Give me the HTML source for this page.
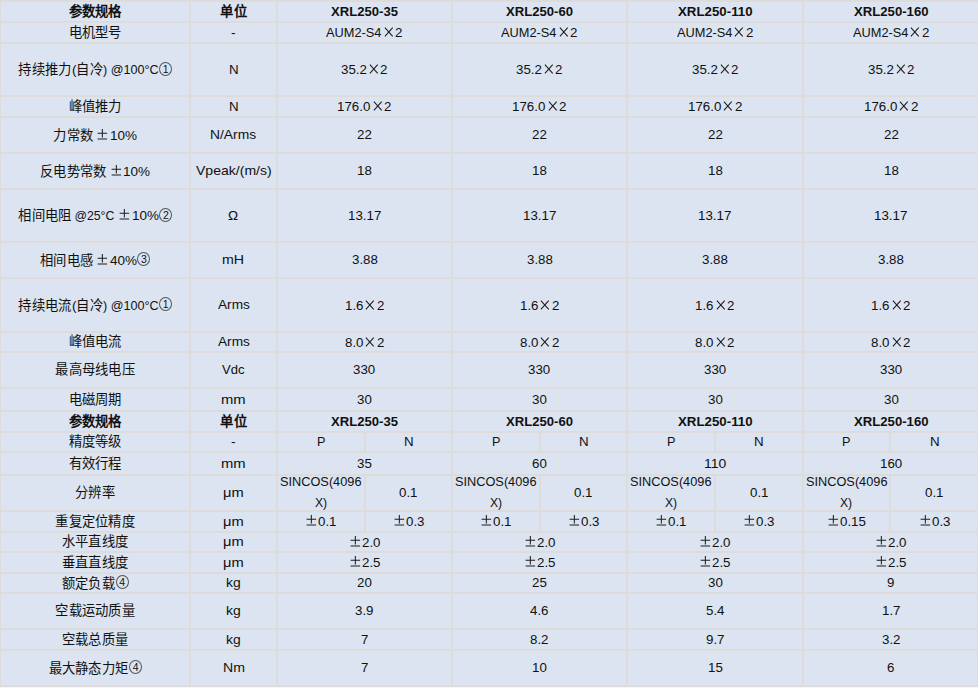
<!DOCTYPE html>
<html lang="zh-CN"><head><meta charset="utf-8"><title>XRL250 参数规格</title><style>
html,body{margin:0;padding:0;}
body{width:978px;height:688px;position:relative;overflow:hidden;background:#dddcda;font-family:"Liberation Sans", sans-serif;font-size:13.33px;color:#111;}
.c{position:absolute;background:#dbe4f0;display:flex;align-items:center;justify-content:center;text-align:center;white-space:nowrap;}
.c p{margin:0;line-height:1;position:relative;top:-0.25px;}
.b{font-weight:bold;}
.s p{line-height:20.7px;top:0;}
.l{display:inline-block;vertical-align:baseline;text-align:left;}
.k{display:inline-block;width:1em;text-align:center;}
.l span{display:inline-block;transform-origin:0 0;white-space:pre;}
.w{display:inline-block;width:1em;text-align:center;}
.g{vertical-align:-1px;}
.g path{stroke:#1e1e1e;stroke-width:1.05;fill:none;}
.ci{display:inline-block;width:1em;height:1em;vertical-align:-0.1em;position:relative;}
.ci span{position:absolute;left:0.8px;top:-0.2px;width:11px;height:12px;border:1px solid #555;border-radius:50%;font-size:10.5px;line-height:12.5px;text-align:center;}
#rb{position:absolute;left:977px;top:116px;width:1px;height:571px;background:linear-gradient(#dbe2ea,#dcdcda);}
#bot{position:absolute;left:0;top:687px;width:978px;height:1px;background:#f6f6f6;}
</style></head><body>
<div class="c b" style="left:1px;top:2px;width:188px;height:19px"><p><span class="k">参</span><span class="k">数</span><span class="k">规</span><span class="k">格</span></p></div>
<div class="c b" style="left:191px;top:2px;width:85px;height:19px"><p><span class="k">单</span><span class="k">位</span></p></div>
<div class="c b" style="left:278px;top:2px;width:173px;height:19px"><p><span class="l" style="width:66.98px"><span style="transform:scaleX(0.9825)">XRL250-35</span></span></p></div>
<div class="c b" style="left:453px;top:2px;width:173px;height:19px"><p><span class="l" style="width:66.98px"><span style="transform:scaleX(0.9825)">XRL250-60</span></span></p></div>
<div class="c b" style="left:628px;top:2px;width:174px;height:19px"><p><span class="l" style="width:74.56px"><span style="transform:scaleX(0.9962)">XRL250-110</span></span></p></div>
<div class="c b" style="left:804px;top:2px;width:174px;height:19px"><p><span class="l" style="width:74.56px"><span style="transform:scaleX(0.9865)">XRL250-160</span></span></p></div>
<div class="c" style="left:1px;top:23px;width:188px;height:19px"><p><span class="k">电</span><span class="k">机</span><span class="k">型</span><span class="k">号</span></p></div>
<div class="c" style="left:191px;top:23px;width:85px;height:19px"><p><span class="l" style="width:4.62px"><span style="transform:scaleX(1.0386)">-</span></span></p></div>
<div class="c" style="left:278px;top:23px;width:173px;height:19px"><p><span class="l" style="width:55.42px"><span style="transform:scaleX(0.9592)">AUM2-S4</span></span><svg class="g" width="13.33" height="13" viewBox="0 0 13.33 13"><path d="M2.9 2.7L10.7 11.3M10.7 2.7L2.9 11.3"/></svg><span class="l" style="width:7.41px"><span style="transform:scaleX(0.9979)">2</span></span></p></div>
<div class="c" style="left:453px;top:23px;width:173px;height:19px"><p><span class="l" style="width:55.42px"><span style="transform:scaleX(0.9592)">AUM2-S4</span></span><svg class="g" width="13.33" height="13" viewBox="0 0 13.33 13"><path d="M2.9 2.7L10.7 11.3M10.7 2.7L2.9 11.3"/></svg><span class="l" style="width:7.41px"><span style="transform:scaleX(0.9979)">2</span></span></p></div>
<div class="c" style="left:628px;top:23px;width:174px;height:19px"><p><span class="l" style="width:55.42px"><span style="transform:scaleX(0.9592)">AUM2-S4</span></span><svg class="g" width="13.33" height="13" viewBox="0 0 13.33 13"><path d="M2.9 2.7L10.7 11.3M10.7 2.7L2.9 11.3"/></svg><span class="l" style="width:7.41px"><span style="transform:scaleX(0.9979)">2</span></span></p></div>
<div class="c" style="left:804px;top:23px;width:174px;height:19px"><p><span class="l" style="width:55.42px"><span style="transform:scaleX(0.9592)">AUM2-S4</span></span><svg class="g" width="13.33" height="13" viewBox="0 0 13.33 13"><path d="M2.9 2.7L10.7 11.3M10.7 2.7L2.9 11.3"/></svg><span class="l" style="width:7.41px"><span style="transform:scaleX(0.9979)">2</span></span></p></div>
<div class="c" style="left:1px;top:44px;width:188px;height:51px"><p><span class="k">持</span><span class="k">续</span><span class="k">推</span><span class="k">力</span><span class="l" style="width:4.52px"><span style="transform:scaleX(1.0140)">(</span></span><span class="k">自</span><span class="k">冷</span><span class="l" style="width:55.73px"><span style="transform:scaleX(0.9467)">) @100°C</span></span><span class="ci"><span>1</span></span></p></div>
<div class="c" style="left:191px;top:44px;width:85px;height:51px"><p><span class="l" style="width:9.64px"><span style="transform:scaleX(1.0000)">N</span></span></p></div>
<div class="c" style="left:278px;top:44px;width:173px;height:51px"><p><span class="l" style="width:25.91px"><span style="transform:scaleX(0.9982)">35.2</span></span><svg class="g" width="13.33" height="13" viewBox="0 0 13.33 13"><path d="M2.9 2.7L10.7 11.3M10.7 2.7L2.9 11.3"/></svg><span class="l" style="width:7.41px"><span style="transform:scaleX(0.9979)">2</span></span></p></div>
<div class="c" style="left:453px;top:44px;width:173px;height:51px"><p><span class="l" style="width:25.91px"><span style="transform:scaleX(0.9982)">35.2</span></span><svg class="g" width="13.33" height="13" viewBox="0 0 13.33 13"><path d="M2.9 2.7L10.7 11.3M10.7 2.7L2.9 11.3"/></svg><span class="l" style="width:7.41px"><span style="transform:scaleX(0.9979)">2</span></span></p></div>
<div class="c" style="left:628px;top:44px;width:174px;height:51px"><p><span class="l" style="width:25.91px"><span style="transform:scaleX(0.9982)">35.2</span></span><svg class="g" width="13.33" height="13" viewBox="0 0 13.33 13"><path d="M2.9 2.7L10.7 11.3M10.7 2.7L2.9 11.3"/></svg><span class="l" style="width:7.41px"><span style="transform:scaleX(0.9979)">2</span></span></p></div>
<div class="c" style="left:804px;top:44px;width:174px;height:51px"><p><span class="l" style="width:25.91px"><span style="transform:scaleX(0.9982)">35.2</span></span><svg class="g" width="13.33" height="13" viewBox="0 0 13.33 13"><path d="M2.9 2.7L10.7 11.3M10.7 2.7L2.9 11.3"/></svg><span class="l" style="width:7.41px"><span style="transform:scaleX(0.9979)">2</span></span></p></div>
<div class="c" style="left:1px;top:97px;width:188px;height:19px"><p><span class="k">峰</span><span class="k">值</span><span class="k">推</span><span class="k">力</span></p></div>
<div class="c" style="left:191px;top:97px;width:85px;height:19px"><p><span class="l" style="width:9.64px"><span style="transform:scaleX(1.0000)">N</span></span></p></div>
<div class="c" style="left:278px;top:97px;width:173px;height:19px"><p><span class="l" style="width:33.30px"><span style="transform:scaleX(0.9981)">176.0</span></span><svg class="g" width="13.33" height="13" viewBox="0 0 13.33 13"><path d="M2.9 2.7L10.7 11.3M10.7 2.7L2.9 11.3"/></svg><span class="l" style="width:7.41px"><span style="transform:scaleX(0.9979)">2</span></span></p></div>
<div class="c" style="left:453px;top:97px;width:173px;height:19px"><p><span class="l" style="width:33.30px"><span style="transform:scaleX(0.9981)">176.0</span></span><svg class="g" width="13.33" height="13" viewBox="0 0 13.33 13"><path d="M2.9 2.7L10.7 11.3M10.7 2.7L2.9 11.3"/></svg><span class="l" style="width:7.41px"><span style="transform:scaleX(0.9979)">2</span></span></p></div>
<div class="c" style="left:628px;top:97px;width:174px;height:19px"><p><span class="l" style="width:33.30px"><span style="transform:scaleX(0.9981)">176.0</span></span><svg class="g" width="13.33" height="13" viewBox="0 0 13.33 13"><path d="M2.9 2.7L10.7 11.3M10.7 2.7L2.9 11.3"/></svg><span class="l" style="width:7.41px"><span style="transform:scaleX(0.9979)">2</span></span></p></div>
<div class="c" style="left:804px;top:97px;width:174px;height:19px"><p><span class="l" style="width:33.30px"><span style="transform:scaleX(0.9981)">176.0</span></span><svg class="g" width="13.33" height="13" viewBox="0 0 13.33 13"><path d="M2.9 2.7L10.7 11.3M10.7 2.7L2.9 11.3"/></svg><span class="l" style="width:7.41px"><span style="transform:scaleX(0.9979)">2</span></span></p></div>
<div class="c" style="left:1px;top:118px;width:188px;height:34px"><p><span class="k">力</span><span class="k">常</span><span class="k">数</span><span class="l" style="width:3.00px"><span style="transform:scaleX(0.8101)"> </span></span><svg class="g" width="13.33" height="13" viewBox="0 0 13.33 13"><path d="M6.35 0.9V9.6M1.6 5.2H11.1M1.6 11H11.1"/></svg><span class="l" style="width:27.08px"><span style="transform:scaleX(1.0146)">10%</span></span></p></div>
<div class="c" style="left:191px;top:118px;width:85px;height:34px"><p><span class="l" style="width:46.12px"><span style="transform:scaleX(1.0380)">N/Arms</span></span></p></div>
<div class="c" style="left:278px;top:118px;width:173px;height:34px"><p><span class="l" style="width:14.80px"><span style="transform:scaleX(0.9979)">22</span></span></p></div>
<div class="c" style="left:453px;top:118px;width:173px;height:34px"><p><span class="l" style="width:14.80px"><span style="transform:scaleX(0.9979)">22</span></span></p></div>
<div class="c" style="left:628px;top:118px;width:174px;height:34px"><p><span class="l" style="width:14.80px"><span style="transform:scaleX(0.9979)">22</span></span></p></div>
<div class="c" style="left:804px;top:118px;width:174px;height:34px"><p><span class="l" style="width:14.80px"><span style="transform:scaleX(0.9979)">22</span></span></p></div>
<div class="c" style="left:1px;top:154px;width:188px;height:34px"><p><span class="k">反</span><span class="k">电</span><span class="k">势</span><span class="k">常</span><span class="k">数</span><span class="l" style="width:3.00px"><span style="transform:scaleX(0.8101)"> </span></span><svg class="g" width="13.33" height="13" viewBox="0 0 13.33 13"><path d="M6.35 0.9V9.6M1.6 5.2H11.1M1.6 11H11.1"/></svg><span class="l" style="width:27.08px"><span style="transform:scaleX(1.0146)">10%</span></span></p></div>
<div class="c" style="left:191px;top:154px;width:85px;height:34px"><p><span class="l" style="width:75.72px"><span style="transform:scaleX(1.0539)">Vpeak/(m/s)</span></span></p></div>
<div class="c" style="left:278px;top:154px;width:173px;height:34px"><p><span class="l" style="width:14.80px"><span style="transform:scaleX(0.9979)">18</span></span></p></div>
<div class="c" style="left:453px;top:154px;width:173px;height:34px"><p><span class="l" style="width:14.80px"><span style="transform:scaleX(0.9979)">18</span></span></p></div>
<div class="c" style="left:628px;top:154px;width:174px;height:34px"><p><span class="l" style="width:14.80px"><span style="transform:scaleX(0.9979)">18</span></span></p></div>
<div class="c" style="left:804px;top:154px;width:174px;height:34px"><p><span class="l" style="width:14.80px"><span style="transform:scaleX(0.9979)">18</span></span></p></div>
<div class="c" style="left:1px;top:190px;width:188px;height:51px"><p><span class="k">相</span><span class="k">间</span><span class="k">电</span><span class="k">阻</span><span class="l" style="width:46.81px"><span style="transform:scaleX(0.9230)"> @25°C </span></span><svg class="g" width="13.33" height="13" viewBox="0 0 13.33 13"><path d="M6.35 0.9V9.6M1.6 5.2H11.1M1.6 11H11.1"/></svg><span class="l" style="width:27.08px"><span style="transform:scaleX(1.0146)">10%</span></span><span class="ci"><span>2</span></span></p></div>
<div class="c" style="left:191px;top:190px;width:85px;height:51px"><p><span class="l" style="width:10.11px"><span style="transform:scaleX(1.0141)">Ω</span></span></p></div>
<div class="c" style="left:278px;top:190px;width:173px;height:51px"><p><span class="l" style="width:33.30px"><span style="transform:scaleX(0.9981)">13.17</span></span></p></div>
<div class="c" style="left:453px;top:190px;width:173px;height:51px"><p><span class="l" style="width:33.30px"><span style="transform:scaleX(0.9981)">13.17</span></span></p></div>
<div class="c" style="left:628px;top:190px;width:174px;height:51px"><p><span class="l" style="width:33.30px"><span style="transform:scaleX(0.9981)">13.17</span></span></p></div>
<div class="c" style="left:804px;top:190px;width:174px;height:51px"><p><span class="l" style="width:33.30px"><span style="transform:scaleX(0.9981)">13.17</span></span></p></div>
<div class="c" style="left:1px;top:243px;width:188px;height:34px"><p><span class="k">相</span><span class="k">间</span><span class="k">电</span><span class="k">感</span><span class="l" style="width:3.00px"><span style="transform:scaleX(0.8101)"> </span></span><svg class="g" width="13.33" height="13" viewBox="0 0 13.33 13"><path d="M6.35 0.9V9.6M1.6 5.2H11.1M1.6 11H11.1"/></svg><span class="l" style="width:27.08px"><span style="transform:scaleX(1.0146)">40%</span></span><span class="ci"><span>3</span></span></p></div>
<div class="c" style="left:191px;top:243px;width:85px;height:34px"><p><span class="l" style="width:22.05px"><span style="transform:scaleX(1.0633)">mH</span></span></p></div>
<div class="c" style="left:278px;top:243px;width:173px;height:34px"><p><span class="l" style="width:25.91px"><span style="transform:scaleX(0.9982)">3.88</span></span></p></div>
<div class="c" style="left:453px;top:243px;width:173px;height:34px"><p><span class="l" style="width:25.91px"><span style="transform:scaleX(0.9982)">3.88</span></span></p></div>
<div class="c" style="left:628px;top:243px;width:174px;height:34px"><p><span class="l" style="width:25.91px"><span style="transform:scaleX(0.9982)">3.88</span></span></p></div>
<div class="c" style="left:804px;top:243px;width:174px;height:34px"><p><span class="l" style="width:25.91px"><span style="transform:scaleX(0.9982)">3.88</span></span></p></div>
<div class="c" style="left:1px;top:279px;width:188px;height:52px"><p><span class="k">持</span><span class="k">续</span><span class="k">电</span><span class="k">流</span><span class="l" style="width:4.52px"><span style="transform:scaleX(1.0140)">(</span></span><span class="k">自</span><span class="k">冷</span><span class="l" style="width:55.73px"><span style="transform:scaleX(0.9467)">) @100°C</span></span><span class="ci"><span>1</span></span></p></div>
<div class="c" style="left:191px;top:279px;width:85px;height:52px"><p><span class="l" style="width:31.86px"><span style="transform:scaleX(1.0241)">Arms</span></span></p></div>
<div class="c" style="left:278px;top:279px;width:173px;height:52px"><p><span class="l" style="width:18.50px"><span style="transform:scaleX(0.9983)">1.6</span></span><svg class="g" width="13.33" height="13" viewBox="0 0 13.33 13"><path d="M2.9 2.7L10.7 11.3M10.7 2.7L2.9 11.3"/></svg><span class="l" style="width:7.41px"><span style="transform:scaleX(0.9979)">2</span></span></p></div>
<div class="c" style="left:453px;top:279px;width:173px;height:52px"><p><span class="l" style="width:18.50px"><span style="transform:scaleX(0.9983)">1.6</span></span><svg class="g" width="13.33" height="13" viewBox="0 0 13.33 13"><path d="M2.9 2.7L10.7 11.3M10.7 2.7L2.9 11.3"/></svg><span class="l" style="width:7.41px"><span style="transform:scaleX(0.9979)">2</span></span></p></div>
<div class="c" style="left:628px;top:279px;width:174px;height:52px"><p><span class="l" style="width:18.50px"><span style="transform:scaleX(0.9983)">1.6</span></span><svg class="g" width="13.33" height="13" viewBox="0 0 13.33 13"><path d="M2.9 2.7L10.7 11.3M10.7 2.7L2.9 11.3"/></svg><span class="l" style="width:7.41px"><span style="transform:scaleX(0.9979)">2</span></span></p></div>
<div class="c" style="left:804px;top:279px;width:174px;height:52px"><p><span class="l" style="width:18.50px"><span style="transform:scaleX(0.9983)">1.6</span></span><svg class="g" width="13.33" height="13" viewBox="0 0 13.33 13"><path d="M2.9 2.7L10.7 11.3M10.7 2.7L2.9 11.3"/></svg><span class="l" style="width:7.41px"><span style="transform:scaleX(0.9979)">2</span></span></p></div>
<div class="c" style="left:1px;top:333px;width:188px;height:18px"><p><span class="k">峰</span><span class="k">值</span><span class="k">电</span><span class="k">流</span></p></div>
<div class="c" style="left:191px;top:333px;width:85px;height:18px"><p><span class="l" style="width:31.86px"><span style="transform:scaleX(1.0241)">Arms</span></span></p></div>
<div class="c" style="left:278px;top:333px;width:173px;height:18px"><p><span class="l" style="width:18.50px"><span style="transform:scaleX(0.9983)">8.0</span></span><svg class="g" width="13.33" height="13" viewBox="0 0 13.33 13"><path d="M2.9 2.7L10.7 11.3M10.7 2.7L2.9 11.3"/></svg><span class="l" style="width:7.41px"><span style="transform:scaleX(0.9979)">2</span></span></p></div>
<div class="c" style="left:453px;top:333px;width:173px;height:18px"><p><span class="l" style="width:18.50px"><span style="transform:scaleX(0.9983)">8.0</span></span><svg class="g" width="13.33" height="13" viewBox="0 0 13.33 13"><path d="M2.9 2.7L10.7 11.3M10.7 2.7L2.9 11.3"/></svg><span class="l" style="width:7.41px"><span style="transform:scaleX(0.9979)">2</span></span></p></div>
<div class="c" style="left:628px;top:333px;width:174px;height:18px"><p><span class="l" style="width:18.50px"><span style="transform:scaleX(0.9983)">8.0</span></span><svg class="g" width="13.33" height="13" viewBox="0 0 13.33 13"><path d="M2.9 2.7L10.7 11.3M10.7 2.7L2.9 11.3"/></svg><span class="l" style="width:7.41px"><span style="transform:scaleX(0.9979)">2</span></span></p></div>
<div class="c" style="left:804px;top:333px;width:174px;height:18px"><p><span class="l" style="width:18.50px"><span style="transform:scaleX(0.9983)">8.0</span></span><svg class="g" width="13.33" height="13" viewBox="0 0 13.33 13"><path d="M2.9 2.7L10.7 11.3M10.7 2.7L2.9 11.3"/></svg><span class="l" style="width:7.41px"><span style="transform:scaleX(0.9979)">2</span></span></p></div>
<div class="c" style="left:1px;top:353px;width:188px;height:34px"><p><span class="k">最</span><span class="k">高</span><span class="k">母</span><span class="k">线</span><span class="k">电</span><span class="k">压</span></p></div>
<div class="c" style="left:191px;top:353px;width:85px;height:34px"><p><span class="l" style="width:22.50px"><span style="transform:scaleX(0.9796)">Vdc</span></span></p></div>
<div class="c" style="left:278px;top:353px;width:173px;height:34px"><p><span class="l" style="width:22.20px"><span style="transform:scaleX(0.9979)">330</span></span></p></div>
<div class="c" style="left:453px;top:353px;width:173px;height:34px"><p><span class="l" style="width:22.20px"><span style="transform:scaleX(0.9979)">330</span></span></p></div>
<div class="c" style="left:628px;top:353px;width:174px;height:34px"><p><span class="l" style="width:22.20px"><span style="transform:scaleX(0.9979)">330</span></span></p></div>
<div class="c" style="left:804px;top:353px;width:174px;height:34px"><p><span class="l" style="width:22.20px"><span style="transform:scaleX(0.9979)">330</span></span></p></div>
<div class="c" style="left:1px;top:389px;width:188px;height:21px"><p><span class="k">电</span><span class="k">磁</span><span class="k">周</span><span class="k">期</span></p></div>
<div class="c" style="left:191px;top:389px;width:85px;height:21px"><p><span class="l" style="width:24.69px"><span style="transform:scaleX(1.1111)">mm</span></span></p></div>
<div class="c" style="left:278px;top:389px;width:173px;height:21px"><p><span class="l" style="width:14.80px"><span style="transform:scaleX(0.9979)">30</span></span></p></div>
<div class="c" style="left:453px;top:389px;width:173px;height:21px"><p><span class="l" style="width:14.80px"><span style="transform:scaleX(0.9979)">30</span></span></p></div>
<div class="c" style="left:628px;top:389px;width:174px;height:21px"><p><span class="l" style="width:14.80px"><span style="transform:scaleX(0.9979)">30</span></span></p></div>
<div class="c" style="left:804px;top:389px;width:174px;height:21px"><p><span class="l" style="width:14.80px"><span style="transform:scaleX(0.9979)">30</span></span></p></div>
<div class="c b" style="left:1px;top:412px;width:188px;height:19px"><p><span class="k">参</span><span class="k">数</span><span class="k">规</span><span class="k">格</span></p></div>
<div class="c b" style="left:191px;top:412px;width:85px;height:19px"><p><span class="k">单</span><span class="k">位</span></p></div>
<div class="c b" style="left:278px;top:412px;width:173px;height:19px"><p><span class="l" style="width:66.98px"><span style="transform:scaleX(0.9825)">XRL250-35</span></span></p></div>
<div class="c b" style="left:453px;top:412px;width:173px;height:19px"><p><span class="l" style="width:66.98px"><span style="transform:scaleX(0.9825)">XRL250-60</span></span></p></div>
<div class="c b" style="left:628px;top:412px;width:174px;height:19px"><p><span class="l" style="width:74.56px"><span style="transform:scaleX(0.9962)">XRL250-110</span></span></p></div>
<div class="c b" style="left:804px;top:412px;width:174px;height:19px"><p><span class="l" style="width:74.56px"><span style="transform:scaleX(0.9865)">XRL250-160</span></span></p></div>
<div class="c" style="left:1px;top:433px;width:188px;height:18px"><p><span class="k">精</span><span class="k">度</span><span class="k">等</span><span class="k">级</span></p></div>
<div class="c" style="left:191px;top:433px;width:85px;height:18px"><p><span class="l" style="width:4.62px"><span style="transform:scaleX(1.0386)">-</span></span></p></div>
<div class="c" style="left:278px;top:433px;width:86px;height:18px"><p><span class="l" style="width:8.44px"><span style="transform:scaleX(0.9490)">P</span></span></p></div>
<div class="c" style="left:366px;top:433px;width:85px;height:18px"><p><span class="l" style="width:9.64px"><span style="transform:scaleX(1.0000)">N</span></span></p></div>
<div class="c" style="left:453px;top:433px;width:86px;height:18px"><p><span class="l" style="width:8.44px"><span style="transform:scaleX(0.9490)">P</span></span></p></div>
<div class="c" style="left:541px;top:433px;width:85px;height:18px"><p><span class="l" style="width:9.64px"><span style="transform:scaleX(1.0000)">N</span></span></p></div>
<div class="c" style="left:628px;top:433px;width:86px;height:18px"><p><span class="l" style="width:8.44px"><span style="transform:scaleX(0.9490)">P</span></span></p></div>
<div class="c" style="left:716px;top:433px;width:86px;height:18px"><p><span class="l" style="width:9.64px"><span style="transform:scaleX(1.0000)">N</span></span></p></div>
<div class="c" style="left:804px;top:433px;width:85px;height:18px"><p><span class="l" style="width:8.44px"><span style="transform:scaleX(0.9490)">P</span></span></p></div>
<div class="c" style="left:891px;top:433px;width:87px;height:18px"><p><span class="l" style="width:9.64px"><span style="transform:scaleX(1.0000)">N</span></span></p></div>
<div class="c" style="left:1px;top:453px;width:188px;height:21px"><p><span class="k">有</span><span class="k">效</span><span class="k">行</span><span class="k">程</span></p></div>
<div class="c" style="left:191px;top:453px;width:85px;height:21px"><p><span class="l" style="width:24.69px"><span style="transform:scaleX(1.1111)">mm</span></span></p></div>
<div class="c" style="left:278px;top:453px;width:173px;height:21px"><p><span class="l" style="width:14.80px"><span style="transform:scaleX(0.9979)">35</span></span></p></div>
<div class="c" style="left:453px;top:453px;width:173px;height:21px"><p><span class="l" style="width:14.80px"><span style="transform:scaleX(0.9979)">60</span></span></p></div>
<div class="c" style="left:628px;top:453px;width:174px;height:21px"><p><span class="l" style="width:22.20px"><span style="transform:scaleX(1.0449)">110</span></span></p></div>
<div class="c" style="left:804px;top:453px;width:174px;height:21px"><p><span class="l" style="width:22.20px"><span style="transform:scaleX(0.9979)">160</span></span></p></div>
<div class="c" style="left:1px;top:476px;width:188px;height:34px"><p><span class="k">分</span><span class="k">辨</span><span class="k">率</span></p></div>
<div class="c" style="left:191px;top:476px;width:85px;height:34px"><p><span class="l" style="width:20.72px"><span style="transform:scaleX(1.1022)">μm</span></span></p></div>
<div class="c s" style="left:278px;top:476px;width:86px;height:34px"><p><span class="l" style="width:81.50px"><span style="transform:scaleX(0.9565)">SINCOS(4096</span></span><br><span class="l" style="width:12.16px"><span style="transform:scaleX(0.9121)">X)</span></span></p></div>
<div class="c" style="left:366px;top:476px;width:85px;height:34px"><p><span class="l" style="width:18.50px"><span style="transform:scaleX(0.9983)">0.1</span></span></p></div>
<div class="c s" style="left:453px;top:476px;width:86px;height:34px"><p><span class="l" style="width:81.50px"><span style="transform:scaleX(0.9565)">SINCOS(4096</span></span><br><span class="l" style="width:12.16px"><span style="transform:scaleX(0.9121)">X)</span></span></p></div>
<div class="c" style="left:541px;top:476px;width:85px;height:34px"><p><span class="l" style="width:18.50px"><span style="transform:scaleX(0.9983)">0.1</span></span></p></div>
<div class="c s" style="left:628px;top:476px;width:86px;height:34px"><p><span class="l" style="width:81.50px"><span style="transform:scaleX(0.9565)">SINCOS(4096</span></span><br><span class="l" style="width:12.16px"><span style="transform:scaleX(0.9121)">X)</span></span></p></div>
<div class="c" style="left:716px;top:476px;width:86px;height:34px"><p><span class="l" style="width:18.50px"><span style="transform:scaleX(0.9983)">0.1</span></span></p></div>
<div class="c s" style="left:804px;top:476px;width:85px;height:34px"><p><span class="l" style="width:81.50px"><span style="transform:scaleX(0.9565)">SINCOS(4096</span></span><br><span class="l" style="width:12.16px"><span style="transform:scaleX(0.9121)">X)</span></span></p></div>
<div class="c" style="left:891px;top:476px;width:87px;height:34px"><p><span class="l" style="width:18.50px"><span style="transform:scaleX(0.9983)">0.1</span></span></p></div>
<div class="c" style="left:1px;top:512px;width:188px;height:19px"><p><span class="k">重</span><span class="k">复</span><span class="k">定</span><span class="k">位</span><span class="k">精</span><span class="k">度</span></p></div>
<div class="c" style="left:191px;top:512px;width:85px;height:19px"><p><span class="l" style="width:20.72px"><span style="transform:scaleX(1.1022)">μm</span></span></p></div>
<div class="c" style="left:278px;top:512px;width:86px;height:19px"><p><svg class="g" width="13.33" height="13" viewBox="0 0 13.33 13"><path d="M6.35 0.9V9.6M1.6 5.2H11.1M1.6 11H11.1"/></svg><span class="l" style="width:18.50px"><span style="transform:scaleX(0.9983)">0.1</span></span></p></div>
<div class="c" style="left:366px;top:512px;width:85px;height:19px"><p><svg class="g" width="13.33" height="13" viewBox="0 0 13.33 13"><path d="M6.35 0.9V9.6M1.6 5.2H11.1M1.6 11H11.1"/></svg><span class="l" style="width:18.50px"><span style="transform:scaleX(0.9983)">0.3</span></span></p></div>
<div class="c" style="left:453px;top:512px;width:86px;height:19px"><p><svg class="g" width="13.33" height="13" viewBox="0 0 13.33 13"><path d="M6.35 0.9V9.6M1.6 5.2H11.1M1.6 11H11.1"/></svg><span class="l" style="width:18.50px"><span style="transform:scaleX(0.9983)">0.1</span></span></p></div>
<div class="c" style="left:541px;top:512px;width:85px;height:19px"><p><svg class="g" width="13.33" height="13" viewBox="0 0 13.33 13"><path d="M6.35 0.9V9.6M1.6 5.2H11.1M1.6 11H11.1"/></svg><span class="l" style="width:18.50px"><span style="transform:scaleX(0.9983)">0.3</span></span></p></div>
<div class="c" style="left:628px;top:512px;width:86px;height:19px"><p><svg class="g" width="13.33" height="13" viewBox="0 0 13.33 13"><path d="M6.35 0.9V9.6M1.6 5.2H11.1M1.6 11H11.1"/></svg><span class="l" style="width:18.50px"><span style="transform:scaleX(0.9983)">0.1</span></span></p></div>
<div class="c" style="left:716px;top:512px;width:86px;height:19px"><p><svg class="g" width="13.33" height="13" viewBox="0 0 13.33 13"><path d="M6.35 0.9V9.6M1.6 5.2H11.1M1.6 11H11.1"/></svg><span class="l" style="width:18.50px"><span style="transform:scaleX(0.9983)">0.3</span></span></p></div>
<div class="c" style="left:804px;top:512px;width:85px;height:19px"><p><svg class="g" width="13.33" height="13" viewBox="0 0 13.33 13"><path d="M6.35 0.9V9.6M1.6 5.2H11.1M1.6 11H11.1"/></svg><span class="l" style="width:25.91px"><span style="transform:scaleX(0.9982)">0.15</span></span></p></div>
<div class="c" style="left:891px;top:512px;width:87px;height:19px"><p><svg class="g" width="13.33" height="13" viewBox="0 0 13.33 13"><path d="M6.35 0.9V9.6M1.6 5.2H11.1M1.6 11H11.1"/></svg><span class="l" style="width:18.50px"><span style="transform:scaleX(0.9983)">0.3</span></span></p></div>
<div class="c" style="left:1px;top:533px;width:188px;height:18px"><p><span class="k">水</span><span class="k">平</span><span class="k">直</span><span class="k">线</span><span class="k">度</span></p></div>
<div class="c" style="left:191px;top:533px;width:85px;height:18px"><p><span class="l" style="width:20.72px"><span style="transform:scaleX(1.1022)">μm</span></span></p></div>
<div class="c" style="left:278px;top:533px;width:173px;height:18px"><p><svg class="g" width="13.33" height="13" viewBox="0 0 13.33 13"><path d="M6.35 0.9V9.6M1.6 5.2H11.1M1.6 11H11.1"/></svg><span class="l" style="width:18.50px"><span style="transform:scaleX(0.9983)">2.0</span></span></p></div>
<div class="c" style="left:453px;top:533px;width:173px;height:18px"><p><svg class="g" width="13.33" height="13" viewBox="0 0 13.33 13"><path d="M6.35 0.9V9.6M1.6 5.2H11.1M1.6 11H11.1"/></svg><span class="l" style="width:18.50px"><span style="transform:scaleX(0.9983)">2.0</span></span></p></div>
<div class="c" style="left:628px;top:533px;width:174px;height:18px"><p><svg class="g" width="13.33" height="13" viewBox="0 0 13.33 13"><path d="M6.35 0.9V9.6M1.6 5.2H11.1M1.6 11H11.1"/></svg><span class="l" style="width:18.50px"><span style="transform:scaleX(0.9983)">2.0</span></span></p></div>
<div class="c" style="left:804px;top:533px;width:174px;height:18px"><p><svg class="g" width="13.33" height="13" viewBox="0 0 13.33 13"><path d="M6.35 0.9V9.6M1.6 5.2H11.1M1.6 11H11.1"/></svg><span class="l" style="width:18.50px"><span style="transform:scaleX(0.9983)">2.0</span></span></p></div>
<div class="c" style="left:1px;top:553px;width:188px;height:19px"><p><span class="k">垂</span><span class="k">直</span><span class="k">直</span><span class="k">线</span><span class="k">度</span></p></div>
<div class="c" style="left:191px;top:553px;width:85px;height:19px"><p><span class="l" style="width:20.72px"><span style="transform:scaleX(1.1022)">μm</span></span></p></div>
<div class="c" style="left:278px;top:553px;width:173px;height:19px"><p><svg class="g" width="13.33" height="13" viewBox="0 0 13.33 13"><path d="M6.35 0.9V9.6M1.6 5.2H11.1M1.6 11H11.1"/></svg><span class="l" style="width:18.50px"><span style="transform:scaleX(0.9983)">2.5</span></span></p></div>
<div class="c" style="left:453px;top:553px;width:173px;height:19px"><p><svg class="g" width="13.33" height="13" viewBox="0 0 13.33 13"><path d="M6.35 0.9V9.6M1.6 5.2H11.1M1.6 11H11.1"/></svg><span class="l" style="width:18.50px"><span style="transform:scaleX(0.9983)">2.5</span></span></p></div>
<div class="c" style="left:628px;top:553px;width:174px;height:19px"><p><svg class="g" width="13.33" height="13" viewBox="0 0 13.33 13"><path d="M6.35 0.9V9.6M1.6 5.2H11.1M1.6 11H11.1"/></svg><span class="l" style="width:18.50px"><span style="transform:scaleX(0.9983)">2.5</span></span></p></div>
<div class="c" style="left:804px;top:553px;width:174px;height:19px"><p><svg class="g" width="13.33" height="13" viewBox="0 0 13.33 13"><path d="M6.35 0.9V9.6M1.6 5.2H11.1M1.6 11H11.1"/></svg><span class="l" style="width:18.50px"><span style="transform:scaleX(0.9983)">2.5</span></span></p></div>
<div class="c" style="left:1px;top:574px;width:188px;height:18px"><p><span class="k">额</span><span class="k">定</span><span class="k">负</span><span class="k">载</span><span class="ci"><span>4</span></span></p></div>
<div class="c" style="left:191px;top:574px;width:85px;height:18px"><p><span class="l" style="width:14.73px"><span style="transform:scaleX(1.0466)">kg</span></span></p></div>
<div class="c" style="left:278px;top:574px;width:173px;height:18px"><p><span class="l" style="width:14.80px"><span style="transform:scaleX(0.9979)">20</span></span></p></div>
<div class="c" style="left:453px;top:574px;width:173px;height:18px"><p><span class="l" style="width:14.80px"><span style="transform:scaleX(0.9979)">25</span></span></p></div>
<div class="c" style="left:628px;top:574px;width:174px;height:18px"><p><span class="l" style="width:14.80px"><span style="transform:scaleX(0.9979)">30</span></span></p></div>
<div class="c" style="left:804px;top:574px;width:174px;height:18px"><p><span class="l" style="width:7.41px"><span style="transform:scaleX(0.9979)">9</span></span></p></div>
<div class="c" style="left:1px;top:594px;width:188px;height:34px"><p><span class="k">空</span><span class="k">载</span><span class="k">运</span><span class="k">动</span><span class="k">质</span><span class="k">量</span></p></div>
<div class="c" style="left:191px;top:594px;width:85px;height:34px"><p><span class="l" style="width:14.73px"><span style="transform:scaleX(1.0466)">kg</span></span></p></div>
<div class="c" style="left:278px;top:594px;width:173px;height:34px"><p><span class="l" style="width:18.50px"><span style="transform:scaleX(0.9983)">3.9</span></span></p></div>
<div class="c" style="left:453px;top:594px;width:173px;height:34px"><p><span class="l" style="width:18.50px"><span style="transform:scaleX(0.9983)">4.6</span></span></p></div>
<div class="c" style="left:628px;top:594px;width:174px;height:34px"><p><span class="l" style="width:18.50px"><span style="transform:scaleX(0.9983)">5.4</span></span></p></div>
<div class="c" style="left:804px;top:594px;width:174px;height:34px"><p><span class="l" style="width:18.50px"><span style="transform:scaleX(0.9983)">1.7</span></span></p></div>
<div class="c" style="left:1px;top:630px;width:188px;height:19px"><p><span class="k">空</span><span class="k">载</span><span class="k">总</span><span class="k">质</span><span class="k">量</span></p></div>
<div class="c" style="left:191px;top:630px;width:85px;height:19px"><p><span class="l" style="width:14.73px"><span style="transform:scaleX(1.0466)">kg</span></span></p></div>
<div class="c" style="left:278px;top:630px;width:173px;height:19px"><p><span class="l" style="width:7.41px"><span style="transform:scaleX(0.9979)">7</span></span></p></div>
<div class="c" style="left:453px;top:630px;width:173px;height:19px"><p><span class="l" style="width:18.50px"><span style="transform:scaleX(0.9983)">8.2</span></span></p></div>
<div class="c" style="left:628px;top:630px;width:174px;height:19px"><p><span class="l" style="width:18.50px"><span style="transform:scaleX(0.9983)">9.7</span></span></p></div>
<div class="c" style="left:804px;top:630px;width:174px;height:19px"><p><span class="l" style="width:18.50px"><span style="transform:scaleX(0.9983)">3.2</span></span></p></div>
<div class="c" style="left:1px;top:651px;width:188px;height:34px"><p><span class="k">最</span><span class="k">大</span><span class="k">静</span><span class="k">态</span><span class="k">力</span><span class="k">矩</span><span class="ci"><span>4</span></span></p></div>
<div class="c" style="left:191px;top:651px;width:85px;height:34px"><p><span class="l" style="width:21.98px"><span style="transform:scaleX(1.0603)">Nm</span></span></p></div>
<div class="c" style="left:278px;top:651px;width:173px;height:34px"><p><span class="l" style="width:7.41px"><span style="transform:scaleX(0.9979)">7</span></span></p></div>
<div class="c" style="left:453px;top:651px;width:173px;height:34px"><p><span class="l" style="width:14.80px"><span style="transform:scaleX(0.9979)">10</span></span></p></div>
<div class="c" style="left:628px;top:651px;width:174px;height:34px"><p><span class="l" style="width:14.80px"><span style="transform:scaleX(0.9979)">15</span></span></p></div>
<div class="c" style="left:804px;top:651px;width:174px;height:34px"><p><span class="l" style="width:7.41px"><span style="transform:scaleX(0.9979)">6</span></span></p></div>
<div id="rb"></div>
<div id="bot"></div>
<script>
document.querySelectorAll('.l').forEach(function(l){
  var s=l.firstElementChild; if(!s) return;
  var tw=parseFloat(l.style.width); s.style.transform='none';
  var w=s.getBoundingClientRect().width;
  s.style.transform='scaleX('+(w>0?tw/w:1).toFixed(4)+')';
});
</script>
</body></html>
